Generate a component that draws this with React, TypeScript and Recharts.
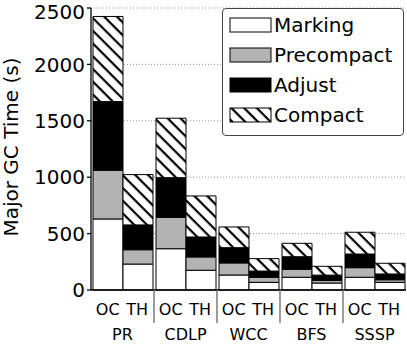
import { BarChart, Bar, XAxis, YAxis, CartesianGrid, Legend, Label } from 'recharts';

const groups = ['PR', 'CDLP', 'WCC', 'BFS', 'SSSP'];
const variants = ['OC', 'TH'];
const phases = ['Marking', 'Precompact', 'Adjust', 'Compact'];

// seconds per phase
const ocMarking = [630, 366, 133, 113, 113];
const ocPrecompact = [432, 279, 107, 71, 85];
const ocAdjust = [608, 351, 135, 111, 121];
const ocCompact = [755, 527, 184, 119, 193];
const thMarking = [230, 175, 68, 62, 68];
const thPrecompact = [127, 118, 45, 22, 23];
const thAdjust = [220, 177, 55, 48, 51];
const thCompact = [446, 364, 110, 78, 95];

const yTicks = [0, 500, 1000, 1500, 2000, 2500];

const data = groups.map((g, i) => ({
  group: g,
  ocMarking: ocMarking[i],
  ocPrecompact: ocPrecompact[i],
  ocAdjust: ocAdjust[i],
  ocCompact: ocCompact[i],
  thMarking: thMarking[i],
  thPrecompact: thPrecompact[i],
  thAdjust: thAdjust[i],
  thCompact: thCompact[i],
}));

const font = '"DejaVu Sans", sans-serif';
const BAND = 63;
const BAR = 29.5;

const fills = (hatchId: string) => ['#ffffff', '#b3b3b3', '#000000', `url(#${hatchId})`];

const HatchDef = ({ id }: { id: string }) => (
  <pattern id={id} patternUnits="userSpaceOnUse" width="9" height="9" patternTransform="rotate(45)">
    <rect width="9" height="9" fill="#fff" />
    <rect width="9" height="2.2" fill="#000" />
  </pattern>
);

const GroupTick = (props: any) => {
  const { x, index, payload } = props;
  return (
    <g fontFamily={font} fill="#000">
      <text x={x - BAR / 2} y={315} textAnchor="middle" fontSize={16}>{variants[0]}</text>
      <text x={x + BAR / 2} y={315} textAnchor="middle" fontSize={16}>{variants[1]}</text>
      <text x={x} y={340} textAnchor="middle" fontSize={16}>{payload.value}</text>
      {index < groups.length - 1 && (
        <line x1={x + BAND / 2} x2={x + BAND / 2} y1={290} y2={323} stroke="#666" strokeWidth={1.3} />
      )}
    </g>
  );
};

const PhaseLegend = () => {
  const f = fills('hatchLegend');
  return (
    <div
      style={{
        width: 182,
        height: 128,
        border: '1px solid #444',
        borderRadius: 4,
        background: '#fff',
        boxSizing: 'border-box',
      }}
    >
      <svg width={180} height={126} style={{ display: 'block' }}>
        <defs>
          <HatchDef id="hatchLegend" />
        </defs>
        {phases.map((p, i) => (
          <g key={p}>
            <rect x={7} y={9 + i * 30} width={41} height={14} fill={f[i]} stroke="#000" strokeWidth={1} />
            <text x={51} y={23 + i * 30} fontFamily={font} fontSize={20} fill="#000">
              {p}
            </text>
          </g>
        ))}
      </svg>
    </div>
  );
};

export default function App() {
  const f = fills('hatch');
  const ocKeys = ['ocMarking', 'ocPrecompact', 'ocAdjust', 'ocCompact'];
  const thKeys = ['thMarking', 'thPrecompact', 'thAdjust', 'thCompact'];
  return (
    <div style={{ position: 'absolute', left: 0, top: 0, fontFamily: font }}>
      <BarChart
        width={407}
        height={345}
        data={data}
        margin={{ top: 8, right: 1, bottom: 0, left: 0 }}
        barCategoryGap={2}
        barGap={0}
      >
        <defs>
          <HatchDef id="hatch" />
        </defs>
        <CartesianGrid vertical={false} stroke="#999" strokeDasharray="1 2" />
        <XAxis
          dataKey="group"
          height={55}
          tickLine={false}
          axisLine={{ stroke: '#000', strokeWidth: 1.3 }}
          tick={<GroupTick />}
          interval={0}
        />
        <YAxis
          width={91}
          domain={[0, 2500]}
          ticks={yTicks}
          tickSize={4}
          tickMargin={2}
          axisLine={{ stroke: '#000', strokeWidth: 1.3 }}
          tickLine={{ stroke: '#000', strokeWidth: 1.3 }}
          tick={{ fill: '#000', fontSize: 20, fontFamily: font }}
        >
          <Label
            content={() => (
              <text
                x={18}
                y={147}
                transform="rotate(-90, 18, 147)"
                textAnchor="middle"
                fontSize={20}
                fontFamily={font}
                fill="#000"
              >
                Major GC Time (s)
              </text>
            )}
          />
        </YAxis>
        <Legend
          layout="vertical"
          align="center"
          verticalAlign="middle"
          content={<PhaseLegend />}
          wrapperStyle={{ left: 222, top: 8, width: 182, height: 128 }}
        />
        {ocKeys.map((k, i) => (
          <Bar key={k} dataKey={k} stackId="oc" fill={f[i]} stroke="#000" strokeWidth={1} isAnimationActive={false} />
        ))}
        {thKeys.map((k, i) => (
          <Bar key={k} dataKey={k} stackId="th" fill={f[i]} stroke="#000" strokeWidth={1} isAnimationActive={false} />
        ))}
      </BarChart>
    </div>
  );
}
